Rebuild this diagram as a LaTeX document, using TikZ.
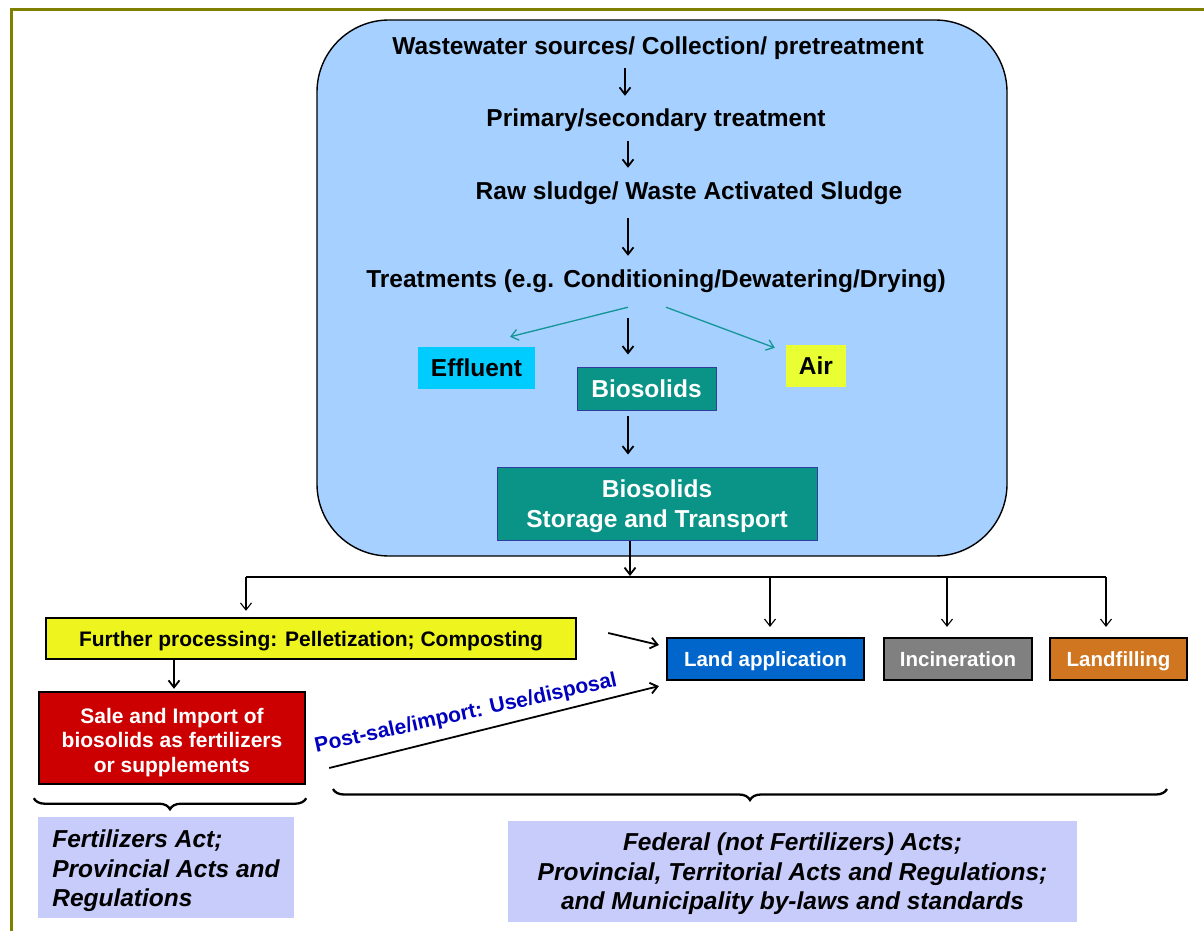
\documentclass[tikz,border=0pt]{standalone}
\usepackage{fontspec}
\setmainfont{Liberation Sans}
\usetikzlibrary{arrows.meta,decorations.pathreplacing}
\definecolor{skyfill}{RGB}{166,208,255}
\definecolor{effc}{RGB}{0,204,255}
\definecolor{tealc}{RGB}{10,148,136}
\definecolor{tealarr}{RGB}{20,150,150}
\definecolor{airc}{RGB}{234,255,51}
\definecolor{yelc}{RGB}{238,244,30}
\definecolor{redc}{RGB}{204,0,0}
\definecolor{bluec}{RGB}{0,102,204}
\definecolor{grayc}{RGB}{128,128,128}
\definecolor{orangec}{RGB}{208,117,32}
\definecolor{lavc}{RGB}{200,204,250}
\definecolor{labc}{RGB}{0,0,190}
\definecolor{olivec}{RGB}{128,128,0}
\definecolor{bordblue}{RGB}{50,60,160}
\begin{document}
\begin{tikzpicture}[x=1pt,y=-1pt,
  ttl/.style={font=\fontsize{24.5}{29}\selectfont\bfseries, inner sep=0pt, text height=17.5pt, text depth=4.5pt},
  arr/.style={-{Straight Barb[length=7pt,width=11pt]}, line width=1.8pt},
  thinarr/.style={-{Straight Barb[length=7pt,width=11pt]}, line width=1.1pt},
  tarr/.style={-{Straight Barb[length=7pt,width=11pt]}, line width=1.3pt, draw=tealarr},
  flowbox/.style={inner sep=0pt, align=center, font=\fontsize{24.5}{30}\selectfont\bfseries, text height=17.5pt, text depth=0pt},
  multitext/.style={inner sep=0pt, align=center},
  endbox/.style={draw=black, line width=2.2pt, inner sep=0pt, align=center, text=white, font=\fontsize{20.5}{24}\selectfont\bfseries, minimum height=42pt, text height=14.7pt, text depth=0pt},
  lawbox/.style={fill=lavc, inner sep=0pt, minimum height=101pt},
  lawtext/.style={inner sep=0pt, font=\fontsize{24.5}{29.5}\selectfont\bfseries\itshape},
  bracestyle/.style={decorate, decoration={brace, mirror, amplitude=11pt}, line width=2.3pt}
]
\useasboundingbox (0,0) rectangle (1204,931);
\fill[white] (0,0) rectangle (1204,931);
\draw[olivec, line width=3.6pt] (11.5,9.5) rectangle (1240,960);

% main rounded panel
\node[draw=black, line width=1.4pt, fill=skyfill, rounded corners=72pt, minimum width=690pt, minimum height=536pt, inner sep=0pt] (main) at (662,288) {};

% flow texts
\node[ttl] (t1) at (658,48) {Wastewater sources/ Collection/ pretreatment};
\node[ttl] (t2) at (656,120) {Primary/secondary treatment};
\node[ttl] (t3) at (689,193) {Raw sludge/ Waste Activated Sludge};
\node[ttl] (t4) at (656,281) {Treatments (e.g. Conditioning/Dewatering/Drying)};

\node[flowbox, fill=effc, minimum width=117pt, minimum height=42pt] (eff) at (476.5,368) {Effluent};
\node[flowbox, fill=airc, minimum width=60pt, minimum height=42pt] (air) at (816,366) {Air};
\node[flowbox, fill=tealc, draw=bordblue, line width=1pt, text=white, minimum width=139pt, minimum height=43pt] (bio) at (646.5,388.5) {Biosolids};
\node[fill=tealc, draw=bordblue, line width=1pt, minimum width=320pt, minimum height=73pt, inner sep=0pt] (store) at (657,503.5) {};
\node[multitext, text=white, font=\fontsize{24.5}{30}\selectfont\bfseries] (storetxt) at ([yshift=-3pt]store.center) {Biosolids\\Storage and Transport};

% arrows in the panel
\draw[arr] ([xshift=-33pt,yshift=-9pt]t1.south) -- ([xshift=-31pt,yshift=13pt]t2.north);
\draw[arr] ([xshift=-28pt,yshift=-10pt]t2.south) -- ([xshift=-61pt,yshift=14pt]t3.north);
\draw[arr] ([xshift=-61pt,yshift=-14pt]t3.south) -- ([xshift=-28pt,yshift=14pt]t4.north);
\draw[arr] ([xshift=-28pt,yshift=-26pt]t4.south) -- ([xshift=-18.5pt,yshift=12pt]bio.north);
\draw[tarr] ([xshift=-28pt,yshift=-15pt]t4.south) -- ([xshift=33.5pt,yshift=10pt]eff.north);
\draw[tarr] ([xshift=10pt,yshift=-15pt]t4.south) -- ([xshift=-11pt,yshift=-3pt]air.north west);
\draw[arr] ([xshift=-18.5pt,yshift=-5pt]bio.south) -- ([xshift=-29pt,yshift=12pt]store.north);

% lower boxes
\node[draw=black, line width=2.4pt, fill=yelc, minimum width=530pt, minimum height=41pt, inner sep=0pt, text height=15pt, text depth=0pt, font=\fontsize{21}{25}\selectfont\bfseries] (further) at (311,638.5) {Further processing: Pelletization; Composting};
\node[draw=black, line width=2.4pt, fill=redc, minimum width=266pt, minimum height=92pt, inner sep=0pt] (sale) at (172,738) {};
\node[multitext, text=white, font=\fontsize{21}{24.5}\selectfont\bfseries] (saletxt) at ([yshift=-4.5pt]sale.center) {Sale and Import of\\biosolids as fertilizers\\or supplements};
\node[endbox, fill=bluec, minimum width=197pt] (land) at (765.5,659) {Land application};
\node[endbox, fill=grayc, minimum width=148pt] (incin) at (958,659) {Incineration};
\node[endbox, fill=orangec, minimum width=137pt] (fill) at (1118.5,659) {Landfilling};

% distribution bus
\coordinate (busL) at (246,577);
\coordinate (busM) at (630,577);
\coordinate (d1) at (770,577);
\coordinate (d2) at (947,577);
\coordinate (busR) at (1106,577);
\draw[line width=2.4pt] (busL) -- (busR);
\draw[arr] ([xshift=-27pt]store.south) -- ([yshift=1pt]busM);
\draw[thinarr, shorten >=6pt] (busL) -- (busL |- further.north);
\draw[thinarr, shorten >=10pt] (d1) -- (d1 |- land.north);
\draw[thinarr, shorten >=10pt] (d2) -- (d2 |- incin.north);
\draw[thinarr, shorten >=10pt] (busR) -- (busR |- fill.north);

\draw[arr] ([xshift=-137pt]further.south) -- ([xshift=2pt,yshift=2pt]sale.north);
\draw[arr] ([xshift=31pt,yshift=5.5pt]further.east) -- ([xshift=-7pt,yshift=14pt]land.west);
\draw[arr] ([xshift=23pt,yshift=-30pt]sale.east) -- ([xshift=-7pt,yshift=-5pt]land.south west);
\node[rotate=12.5, text=labc, inner sep=0pt, font=\fontsize{21}{25}\selectfont\bfseries] (post) at (466,714) {Post-sale/import: Use/disposal};

% braces
\draw[bracestyle] ([xshift=-4pt,yshift=-13pt]sale.south west) -- ([yshift=-13pt]sale.south east);
\coordinate (bL) at (333,789);
\coordinate (bR) at (1167,789);
\draw[bracestyle] (bL) -- (bR);

% law boxes
\node[lawbox, minimum width=256pt] (lawL) at (166,867.5) {};
\node[lawtext, align=left] (lawLtxt) at ([xshift=-0pt,yshift=-3.6pt]lawL.center) {Fertilizers Act;\\Provincial Acts and\\Regulations};
\node[lawbox, minimum width=569pt] (lawR) at (792.5,871.5) {};
\node[lawtext, align=center] (lawRtxt) at ([yshift=-2.6pt]lawR.center) {Federal (not Fertilizers) Acts;\\Provincial, Territorial Acts and Regulations;\\and Municipality by-laws and standards};
\end{tikzpicture}
\end{document}
